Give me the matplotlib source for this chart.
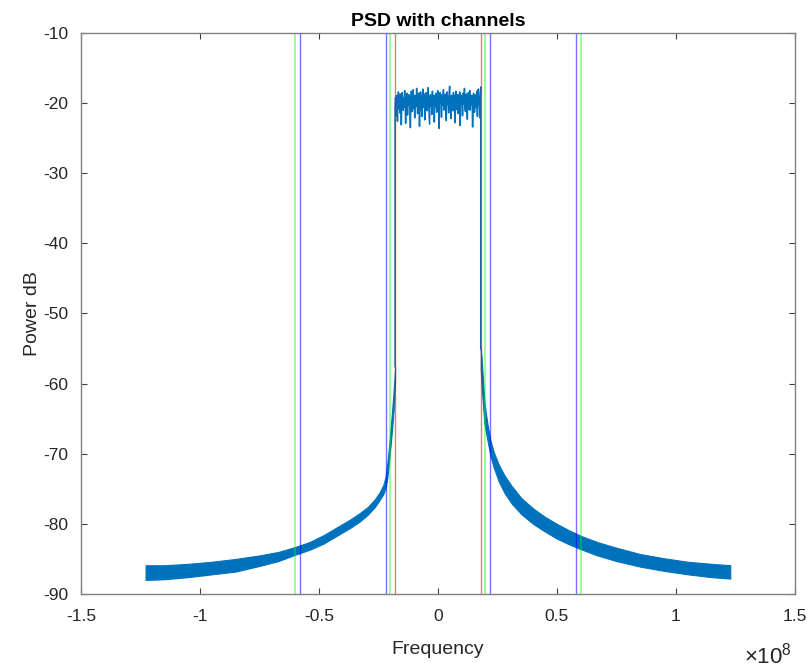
import numpy as np
import matplotlib
matplotlib.use('Agg')
import matplotlib.pyplot as plt
from matplotlib.ticker import FuncFormatter

plt.rcParams['font.family'] = ['Liberation Sans', 'DejaVu Sans']
plt.rcParams['axes.unicode_minus'] = False
plt.rcParams['mathtext.fontset'] = 'custom'
plt.rcParams['mathtext.rm'] = 'Liberation Sans'

# ruido dentro da banda (dB), de -18 MHz a +18 MHz
band_db = [
    -20.5, -19.2, -21.8, -18.9, -20.1, -22.6, -19.5, -18.4, -20.8, -19.9,
    -21.4, -18.7, -19.6, -23.1, -20.2, -18.5, -19.8, -21.0, -19.3, -20.6,
    -18.2, -19.7, -22.9, -20.4, -19.1, -18.6, -21.7, -19.9, -20.3, -18.8,
    -19.4, -20.9, -23.5, -19.6, -18.3, -20.0, -21.2, -19.0, -18.1, -20.7,
    -19.5, -22.1, -18.9, -19.8, -20.5, -17.9, -19.3, -21.5, -20.1, -18.6,
    -19.7, -23.3, -20.2, -18.4, -19.2, -20.8, -21.9, -19.0, -18.0, -19.9,
    -20.6, -18.7, -22.4, -19.4, -20.3, -18.5, -19.6, -21.1, -20.0, -17.8,
    -19.5, -20.9, -23.0, -19.1, -18.8, -20.4, -19.7, -21.6, -18.3, -19.9,
    -20.2, -18.9, -22.7, -19.3, -20.5, -18.6, -19.8, -21.3, -20.1, -18.2,
    -19.6, -20.7, -23.6, -19.2, -18.5, -20.0, -19.4, -22.0, -18.8, -19.7,
    -20.3, -18.1, -21.0, -19.5, -20.6, -18.7, -19.9, -22.5, -19.0, -18.4,
    -20.2, -19.3, -21.4, -18.6, -17.6, -20.8, -19.1, -22.2, -18.9, -19.6,
    -19.8, -21.1, -18.5, -20.4, -19.0, -22.8, -19.6, -18.3, -20.9, -19.2,
    -20.0, -18.8, -21.5, -19.4, -20.7, -18.4, -23.2, -19.9, -18.9, -20.3,
    -19.1, -21.8, -18.6, -20.1, -19.5, -17.9, -20.6, -21.2, -19.3, -18.7,
    -20.4, -22.3, -19.0, -18.5, -19.8, -20.9, -18.2, -21.0, -19.6, -20.2,
    -18.9, -19.4, -23.4, -20.5, -18.6, -19.9, -21.3, -18.8, -20.1, -19.2,
    -20.7, -18.3, -21.9, -19.5, -18.0, -20.3, -19.7, -22.1, -18.7, -17.7,
]

# envelope da saia esquerda (MHz, dB)
left_f = [-122.88, -115, -105, -95, -85, -75, -67, -60, -54, -48, -42, -37, -33,
          -29.5, -26.5, -24.5, -23, -22, -21.2, -20.5, -19.8, -19.2, -18.7, -18.3, -18.0]
left_hi = [-85.9, -85.9, -85.7, -85.4, -85.0, -84.5, -84.0, -83.3, -82.6, -81.6, -80.4, -79.4, -78.5,
           -77.6, -76.5, -75.5, -74.5, -73.3, -71.2, -68.8, -66.1, -63.6, -61.4, -59.3, -57.6]
left_lo = [-88.0, -87.9, -87.6, -87.2, -86.8, -86.0, -85.3, -84.4, -83.7, -82.8, -81.6, -80.6, -79.7,
           -78.7, -77.6, -76.6, -75.8, -74.9, -73.3, -71.0, -68.5, -66.2, -64.2, -62.0, -59.5]

# envelope da saia direita (MHz, dB)
right_f = [18.0, 18.4, 19.0, 19.5, 20.2, 20.9, 22.0, 23.5, 25.5, 28, 31, 35, 40, 45,
           50, 55, 60, 67, 75, 85, 95, 105, 115, 122.88]
right_hi = [-55.0, -56.5, -59.8, -62.3, -64.3, -65.9, -68.0, -69.8, -71.5, -73.1, -74.6, -76.3, -77.8, -79.0,
            -80.0, -80.9, -81.7, -82.6, -83.4, -84.3, -84.9, -85.4, -85.7, -85.9]
right_lo = [-58.0, -60.4, -63.3, -65.6, -67.0, -68.2, -70.2, -72.0, -73.9, -75.6, -77.1, -78.6, -80.0, -81.1,
            -82.1, -82.9, -83.6, -84.5, -85.3, -86.1, -86.7, -87.2, -87.6, -87.8]

# canais (MHz)
red_ch = [-18, 18]
green_ch = [-60, -20, 20, 60]
blue_ch = [-58, -22, 22, 58]

cor = '#0072BD'
mhz = 1e6

fig = plt.figure(figsize=(8.12, 6.68), dpi=100)
ax = fig.add_axes([0.0998, 0.1108, 0.879, 0.8398])

ax.fill_between(np.array(left_f) * mhz, left_lo, left_hi, color=cor, lw=0.8, edgecolor=cor)
ax.fill_between(np.array(right_f) * mhz, right_lo, right_hi, color=cor, lw=0.8, edgecolor=cor)

band_f = np.linspace(-18, 18, len(band_db)) * mhz
band_x = np.concatenate([[-18 * mhz], band_f, [18 * mhz]])
band_y = np.concatenate([[left_hi[-1]], band_db, [right_hi[0]]])
ax.plot(band_x, band_y, color=cor, lw=1.1)

for f in green_ch:
    ax.axvline(f * mhz, color=(0.0, 1.0, 0.0), alpha=0.45, lw=1.2)
for f in blue_ch:
    ax.axvline(f * mhz, color=(0.0, 0.0, 1.0), alpha=0.55, lw=1.0)
for f in red_ch:
    ax.axvline(f * mhz, color=(1.0, 0.0, 0.0), alpha=0.55, lw=1.0)

ax.set_xlim(-1.5e8, 1.5e8)
ax.set_ylim(-90, -10)
ax.set_xticks(np.arange(-1.5e8, 1.51e8, 0.5e8))
ax.set_yticks(np.arange(-90, -9, 10))
ax.xaxis.set_major_formatter(FuncFormatter(lambda v, p: f'{v / 1e8:g}'))

for s in ax.spines.values():
    s.set_color('#808080')
    s.set_linewidth(1.0)
ax.tick_params(direction='in', length=4, width=0.8, color='#404040',
               labelsize=12.5, labelcolor='#262626', top=True, right=True)
ax.tick_params(axis='x', pad=11)
ax.tick_params(axis='y', pad=9)

ax.set_title('PSD with channels', fontsize=14, fontweight='bold', color='black', pad=5)
ax.set_xlabel('Frequency', fontsize=14, color='#262626', labelpad=12)
ax.set_ylabel('Power dB', fontsize=14, color='#262626', labelpad=2)
ax.text(0.962, -0.109, r'$\times10^{8}$', transform=ax.transAxes, fontsize=16,
        color='#262626', ha='center', va='center')

fig.savefig('out.png', dpi=100)
